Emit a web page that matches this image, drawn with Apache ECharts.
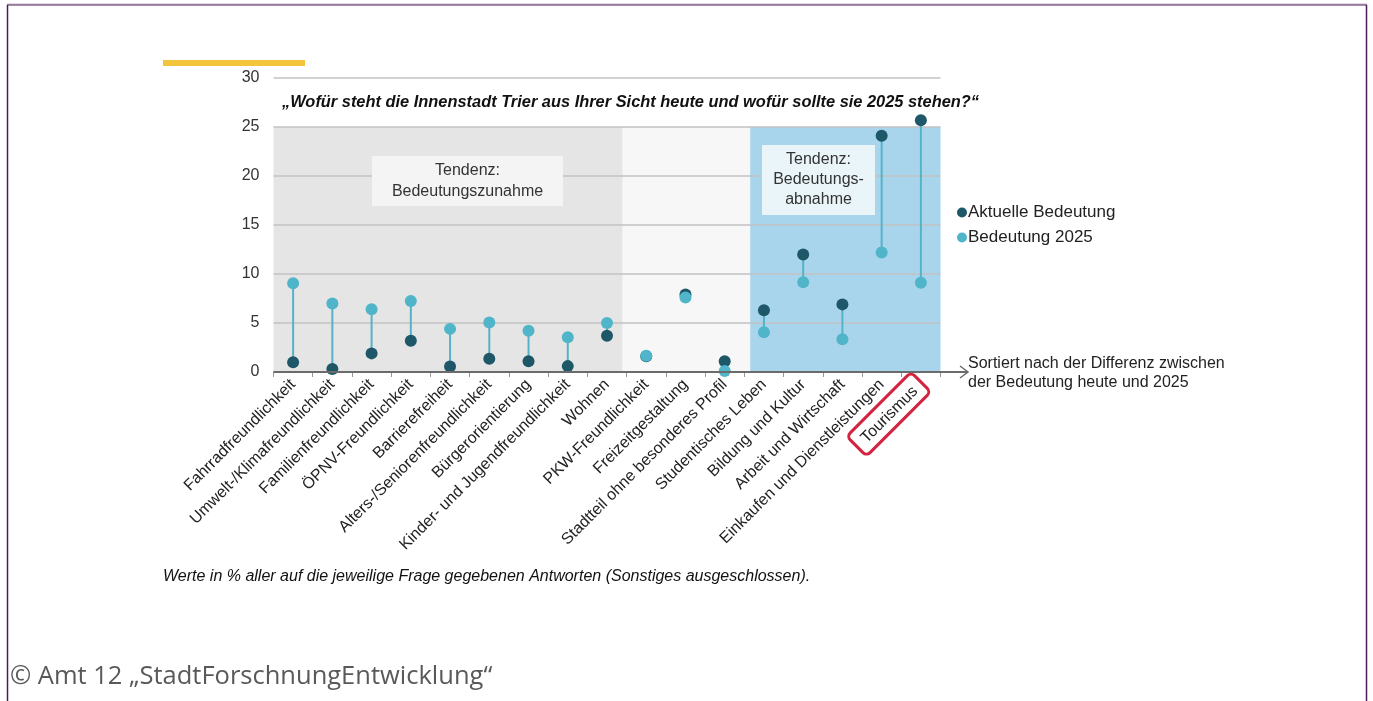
<!DOCTYPE html>
<html>
<head>
<meta charset="utf-8">
<script src="https://cdn.jsdelivr.net/npm/echarts@6/dist/echarts.min.js"></script>
<style>
  html, body { margin: 0; padding: 0; background: #fff; }
  #chart { width: 1373px; height: 701px; }
</style>
</head>
<body>
<div id="chart"></div>
<script>
// categories, sorted by difference between today and 2025
const categories = [
  'Fahrradfreundlichkeit', 'Umwelt-/Klimafreundlichkeit', 'Familienfreundlichkeit',
  'ÖPNV-Freundlichkeit', 'Barrierefreiheit', 'Alters-/Seniorenfreundlichkeit',
  'Bürgerorientierung', 'Kinder- und Jugendfreundlichkeit', 'Wohnen',
  'PKW-Freundlichkeit', 'Freizeitgestaltung', 'Stadtteil ohne besonderes Profil',
  'Studentisches Leben', 'Bildung und Kultur', 'Arbeit und Wirtschaft',
  'Einkaufen und Dienstleistungen', 'Tourismus'
];
const aktuell = [1.0, 0.3, 1.9, 3.2, 0.55, 1.35, 1.1, 0.6, 3.7, 1.6, 7.9, 1.1, 6.3, 12.0, 6.9, 24.1, 25.7];
const bedeutung2025 = [9.05, 7.0, 6.4, 7.25, 4.4, 5.05, 4.2, 3.55, 5.0, 1.65, 7.6, 0.1, 4.05, 9.15, 3.35, 12.2, 9.1];

// background bands (in category units, 0..17)
const bandStart = [0, 8.9, 12.15];
const bandEnd = [8.9, 12.15, 17];
const bandTop = 25;
const bandColor = ['#e5e5e5', '#f7f7f7', '#a9d5ec'];

const darkColor = '#1d5768';
const lightColor = '#50b5c9';
const font = 'Liberation Sans, Arial, sans-serif';

let chart = echarts.init(document.getElementById('chart'));

let option = {
  backgroundColor: '#ffffff',
  animation: false,
  textStyle: { fontFamily: font },
  grid: { left: 273.5, right: 432.5, top: 78, bottom: 329 },
  legend: {
    orient: 'vertical',
    left: 952,
    top: 199,
    itemGap: 8,
    itemWidth: 10,
    itemHeight: 10,
    icon: 'circle',
    textStyle: { fontSize: 17, color: '#222', fontFamily: font, padding: [0, 0, 0, -4] },
    data: ['Aktuelle Bedeutung', 'Bedeutung 2025']
  },
  xAxis: [{
    type: 'category',
    data: categories,
    axisLine: { show: false },
    axisTick: { show: true, length: 5, lineStyle: { color: '#999' } },
    axisLabel: {
      interval: 0,
      rotate: 45,
      margin: 10,
      fontSize: 16,
      color: '#222',
      fontFamily: font,
      formatter: function (v) {
        return v === 'Tourismus' ? '{box|' + v + '}' : v;
      },
      rich: {
        box: {
          fontSize: 16,
          color: '#222',
          fontFamily: font,
          borderColor: '#d3233f',
          borderWidth: 3,
          borderRadius: 5,
          padding: [7, 9, 5, 9]
        }
      }
    }
  }, {
    type: 'value',
    min: 0,
    max: 17,
    show: false
  }],
  yAxis: {
    type: 'value',
    min: 0,
    max: 30,
    interval: 5,
    axisLine: { show: false },
    axisTick: { show: false },
    axisLabel: { fontSize: 16, color: '#333', margin: 14, fontFamily: font },
    splitLine: { lineStyle: { color: '#c2c2c2', width: 1.5 } }
  },
  series: [{
    name: 'bands',
    type: 'custom',
    xAxisIndex: 1,
    z: -1,
    silent: true,
    data: bandStart.map((s, i) => [s, bandEnd[i], bandTop, i]),
    renderItem: function (params, api) {
      let p0 = api.coord([api.value(0), api.value(2)]);
      let p1 = api.coord([api.value(1), 0]);
      return {
        type: 'rect',
        shape: { x: p0[0], y: p0[1], width: p1[0] - p0[0], height: p1[1] - p0[1] },
        style: { fill: bandColor[api.value(3)] }
      };
    }
  }, {
    name: 'connector',
    type: 'custom',
    silent: true,
    data: categories.map((c, i) => [i, aktuell[i], bedeutung2025[i]]),
    renderItem: function (params, api) {
      let a = api.coord([api.value(0), api.value(1)]);
      let b = api.coord([api.value(0), api.value(2)]);
      return {
        type: 'line',
        shape: { x1: a[0], y1: a[1], x2: b[0], y2: b[1] },
        style: { stroke: '#55b3c9', lineWidth: 2 }
      };
    }
  }, {
    name: 'Aktuelle Bedeutung',
    type: 'scatter',
    symbolSize: 12,
    itemStyle: { color: darkColor, opacity: 1 },
    data: aktuell
  }, {
    name: 'Bedeutung 2025',
    type: 'scatter',
    symbolSize: 12,
    itemStyle: { color: lightColor, opacity: 1 },
    data: bedeutung2025
  }]
};
chart.setOption(option);

// decorations: frame, axis arrow, annotations
let y0 = chart.convertToPixel({ yAxisIndex: 0 }, 0);
let xl = 273.5;
let xr = 968;
chart.setOption({
  graphic: [
    // page frame
    { type: 'line', shape: { x1: 7, y1: 4, x2: 1367, y2: 4 }, style: { stroke: '#c9b3cf', lineWidth: 1 } },
    { type: 'line', shape: { x1: 7, y1: 5, x2: 1367, y2: 5 }, style: { stroke: '#4d1b57', lineWidth: 1 } },
    { type: 'line', shape: { x1: 7.5, y1: 5, x2: 7.5, y2: 701 }, style: { stroke: '#4d1b57', lineWidth: 1.5 } },
    { type: 'line', shape: { x1: 1366.5, y1: 5, x2: 1366.5, y2: 701 }, style: { stroke: '#4d1b57', lineWidth: 1.5 } },
    // yellow bar
    { type: 'rect', shape: { x: 163, y: 60, width: 142, height: 6 }, style: { fill: '#f2c53d' } },
    // x axis with arrow
    { type: 'line', z: 10, shape: { x1: xl, y1: y0, x2: xr - 1, y2: y0 }, style: { stroke: '#6b6b6b', lineWidth: 2 } },
    { type: 'polyline', z: 10, shape: { points: [[xr - 8, y0 - 6], [xr, y0], [xr - 8, y0 + 6]] }, style: { stroke: '#6b6b6b', lineWidth: 1.5, fill: null } },
    // chart question
    {
      type: 'text', left: 282, top: 94,
      style: { text: '„Wofür steht die Innenstadt Trier aus Ihrer Sicht heute und wofür sollte sie 2025 stehen?“', font: 'italic bold 16.4px ' + font, fill: '#111' }
    },
    // tendency boxes
    { type: 'rect', shape: { x: 372, y: 156, width: 191, height: 50 }, style: { fill: '#f4f4f4' } },
    {
      type: 'text', x: 467.5, y: 181,
      style: { text: 'Tendenz:\nBedeutungszunahme', font: '16px ' + font, fill: '#333', align: 'center', verticalAlign: 'middle', lineHeight: 21 }
    },
    { type: 'rect', shape: { x: 762, y: 145, width: 113, height: 70 }, style: { fill: '#eaf5fa' } },
    {
      type: 'text', x: 818.5, y: 180,
      style: { text: 'Tendenz:\nBedeutungs-\nabnahme', font: '16px ' + font, fill: '#333', align: 'center', verticalAlign: 'middle', lineHeight: 20 }
    },
    // sort note
    {
      type: 'text', left: 968, top: 354,
      style: { text: 'Sortiert nach der Differenz zwischen\nder Bedeutung heute und 2025', font: '16px ' + font, fill: '#222', lineHeight: 19 }
    },
    // footnote
    {
      type: 'text', left: 163, top: 569,
      style: { text: 'Werte in % aller auf die jeweilige Frage gegebenen Antworten (Sonstiges ausgeschlossen).', font: 'italic 16px ' + font, fill: '#111' }
    },
    // copyright
    {
      type: 'text', left: 10, top: 664,
      style: { text: '© Amt 12 „StadtForschnungEntwicklung“', font: '25.5px "Open Sans", Lato, sans-serif', fill: '#595959' }
    }
  ]
});
</script>
</body>
</html>
